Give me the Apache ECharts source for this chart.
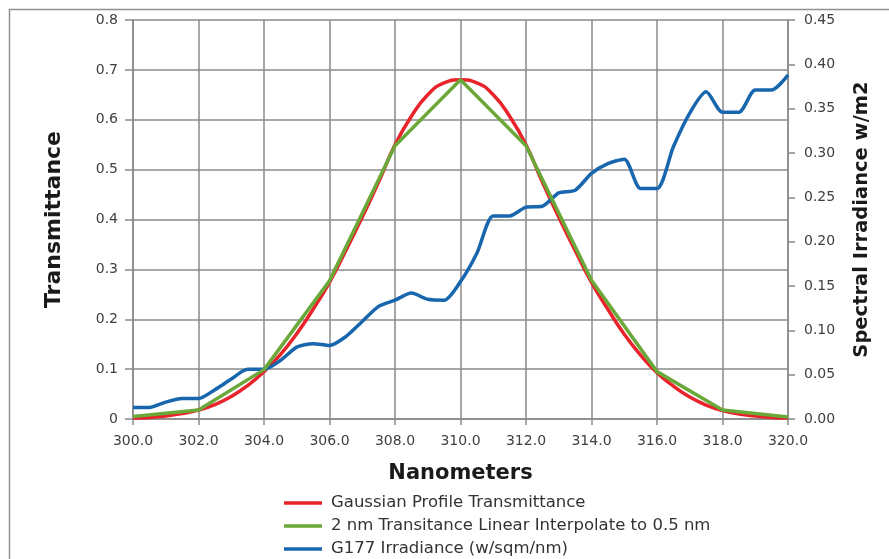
<!DOCTYPE html>
<html>
<head>
<meta charset="utf-8">
<script src="https://cdn.jsdelivr.net/npm/echarts@6/dist/echarts.min.js"></script>
<style>
html,body{margin:0;padding:0;background:#fff;}
#chart{width:889px;height:559px;}
</style>
</head>
<body>
<div id="chart"></div>
<script>
// wavelengths (nm), 0.5 nm steps
var wavelengths = [300.0,300.5,301.0,301.5,302.0,302.5,303.0,303.5,304.0,304.5,305.0,305.5,306.0,306.5,307.0,307.5,308.0,308.5,309.0,309.5,310.0,310.5,311.0,311.5,312.0,312.5,313.0,313.5,314.0,314.5,315.0,315.5,316.0,316.5,317.0,317.5,318.0,318.5,319.0,319.5,320.0];
// Gaussian profile transmittance (left axis)
var gaussianT = [0.002,0.003,0.006,0.011,0.018,0.029,0.045,0.067,0.095,0.129,0.171,0.220,0.274,0.338,0.405,0.475,0.550,0.607,0.650,0.674,0.680,0.674,0.650,0.607,0.550,0.475,0.405,0.338,0.274,0.220,0.170,0.128,0.093,0.066,0.044,0.028,0.017,0.010,0.006,0.003,0.002];
// 2 nm transmittance points (linear interpolation between them)
var wavelengths2nm = [300,302,304,306,308,310,312,314,316,318,320];
var linearT = [0.005,0.018,0.099,0.277,0.548,0.680,0.548,0.278,0.095,0.018,0.004];
// G177 irradiance (right axis)
var g177 = [0.013,0.013,0.019,0.023,0.023,0.033,0.045,0.056,0.056,0.066,0.081,0.085,0.083,0.093,0.110,0.127,0.134,0.142,0.135,0.134,0.155,0.187,0.229,0.229,0.239,0.240,0.255,0.258,0.277,0.288,0.293,0.260,0.260,0.307,0.345,0.369,0.346,0.346,0.371,0.371,0.388];

var seriesNames = ['Gaussian Profile Transmittance','2 nm Transitance Linear Interpolate to 0.5 nm','G177 Irradiance (w/sqm/nm)'];
var colors = ['#e8232a','#6aa83a','#1766ae'];

function pairs(xs, ys){ return xs.map(function(x,i){ return [x, ys[i]]; }); }

var FONT = 'DejaVu Sans';
var chart = echarts.init(document.getElementById('chart'), null, {renderer:'canvas'});
var gridColor = '#8a8a8a';
var labelColor = '#404040';

chart.setOption({
  animation:false,
  textStyle:{fontFamily:FONT},
  graphic:[{
    type:'rect', left:7, top:7, shape:{width:1000, height:700},
    style:{fill:'none', stroke:'#8f8f8f', lineWidth:1.5}, silent:true, z:-1
  }],
  grid:{left:133, right:101, top:20, bottom:140, containLabel:false},
  legend:{
    orient:'vertical', left:284, top:494, height:120, padding:0,
    itemWidth:38, itemHeight:3.5, itemGap:5, icon:'rect',
    textStyle:{fontFamily:FONT, fontSize:16.5, color:'#333', lineHeight:18, padding:[0,0,0,4]},
    data: seriesNames
  },
  xAxis:{
    type:'value', min:300, max:320, interval:2,
    name:'Nanometers', nameLocation:'middle', nameGap:44,
    nameTextStyle:{fontFamily:FONT, fontSize:21, fontWeight:'bold', color:'#1a1a1a'},
    axisLine:{show:true, lineStyle:{color:gridColor, width:1.5}},
    axisTick:{show:true, length:6, lineStyle:{color:gridColor, width:1.5}},
    axisLabel:{fontFamily:FONT, fontSize:14, color:labelColor, margin:15, formatter:function(v){return v.toFixed(1);}},
    splitLine:{show:true, lineStyle:{color:gridColor, width:1.5}}
  },
  yAxis:[{
    type:'value', min:0, max:0.8, interval:0.1,
    name:'Transmittance', nameLocation:'middle', nameGap:68, nameRotate:90,
    nameTextStyle:{fontFamily:FONT, fontSize:22, fontWeight:'bold', color:'#1a1a1a'},
    axisLine:{show:true, lineStyle:{color:gridColor, width:1.5}},
    axisTick:{show:true, length:8, lineStyle:{color:gridColor, width:1.5}},
    axisLabel:{fontFamily:FONT, fontSize:14, color:labelColor, margin:15, formatter:function(v){return v===0?'0':v.toFixed(1);}},
    splitLine:{show:true, lineStyle:{color:gridColor, width:1.5}}
  },{
    type:'value', min:0, max:0.45, interval:0.05, position:'right',
    name:'Spectral Irradiance w/m2', nameLocation:'middle', nameGap:64, nameRotate:90,
    nameTextStyle:{fontFamily:FONT, fontSize:19.5, fontWeight:'bold', color:'#1a1a1a'},
    axisLine:{show:true, lineStyle:{color:gridColor, width:1.5}},
    axisTick:{show:true, length:7, lineStyle:{color:gridColor, width:1.5}},
    axisLabel:{fontFamily:FONT, fontSize:14, color:labelColor, margin:16, formatter:function(v){return v.toFixed(2);}},
    splitLine:{show:false}
  }],
  series:[{
    name:seriesNames[0], type:'line', yAxisIndex:0, smooth:true, showSymbol:false,
    itemStyle:{color:colors[0]}, lineStyle:{width:3.5, color:colors[0]}, data:pairs(wavelengths, gaussianT), z:2
  },{
    name:seriesNames[2], type:'line', yAxisIndex:1, smooth:0.25, showSymbol:false,
    itemStyle:{color:colors[2]}, lineStyle:{width:3.5, color:colors[2]}, data:pairs(wavelengths, g177), z:3
  },{
    name:seriesNames[1], type:'line', yAxisIndex:0, smooth:false, showSymbol:false,
    itemStyle:{color:colors[1]}, lineStyle:{width:3.5, color:colors[1]}, data:pairs(wavelengths2nm, linearT), z:4
  }]
});
</script>
</body>
</html>
